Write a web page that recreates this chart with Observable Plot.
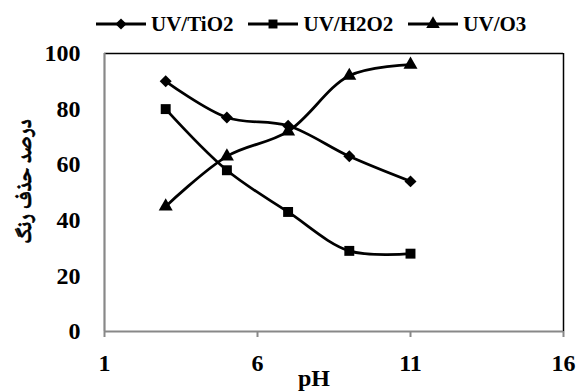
<!DOCTYPE html>
<html>
<head>
<meta charset="utf-8">
<script src="https://cdn.jsdelivr.net/npm/d3@7"></script>
<script src="https://cdn.jsdelivr.net/npm/@observablehq/plot@0.6"></script>
<style>
  html, body { margin: 0; padding: 0; background: #fff; }
  #chart { width: 578px; height: 391px; position: relative; }
  #legend { height: 40px; box-sizing: border-box; padding-top: 8px; padding-left: 96px; display: flex; align-items: center; gap: 15px; color: #000; }
  .item { display: flex; align-items: center; gap: 5px; }
</style>
</head>
<body>
<div id="chart">
  <div id="legend" style="font-family:'Liberation Serif';font-weight:bold;font-size:21px"></div>
</div>
<script>
const pH = [3, 5, 7, 9, 11];
const seriesNames = ["UV/TiO2", "UV/H2O2", "UV/O3"];
const tio2 = [90, 77, 74, 63, 54];
const h2o2 = [80, 58, 43, 29, 28];
const o3 = [45, 63, 72, 92, 96];
const xTicks = [1, 6, 11, 16];
const yTicks = [0, 20, 40, 60, 80, 100];
const yTitle = "درصد حذف رنگ";
const xTitle = "pH";

const symbols = {"UV/TiO2": "diamond2", "UV/H2O2": "square", "UV/O3": "triangle"};
const d3Symbols = {"UV/TiO2": d3.symbolDiamond2, "UV/H2O2": d3.symbolSquare, "UV/O3": d3.symbolTriangle};
const radii = {"UV/TiO2": 5.4, "UV/H2O2": 5.6, "UV/O3": 5.2};

const values = [tio2, h2o2, o3];
const data = [];
seriesNames.forEach((s, k) => pH.forEach((x, i) => data.push({series: s, pH: x, value: values[k][i]})));

const marks = [];
seriesNames.forEach(s => {
  const d = data.filter(r => r.series === s);
  marks.push(Plot.line(d, {x: "pH", y: "value", stroke: "black", strokeWidth: 2.75, curve: "catmull-rom"}));
  marks.push(Plot.dot(d, {x: "pH", y: "value", symbol: () => symbols[s], r: radii[s], fill: "black", stroke: "none"}));
});

const plot = Plot.plot({
  width: 578,
  height: 351,
  marginLeft: 104,
  marginRight: 15,
  marginTop: 13,
  marginBottom: 60,
  style: {fontWeight: "bold", fontSize: "24px", color: "#000", background: "#fff"},
  x: {domain: [1, 16], ticks: xTicks, tickSize: 6, tickPadding: 16, label: null, tickFormat: d => String(d)},
  y: {domain: [0, 100], ticks: yTicks, tickSize: 0, tickPadding: 24, label: null},
  symbol: {type: "identity"},
  marks: [
    Plot.ruleY([100], {stroke: "black", strokeWidth: 1.5}),
    Plot.ruleX([16], {stroke: "black", strokeWidth: 1.5}),
    Plot.ruleX([1], {stroke: "#888", strokeWidth: 2.2}),
    Plot.ruleY([0], {stroke: "#888", strokeWidth: 2.2}),
    ...marks,
    Plot.text([xTitle], {frameAnchor: "bottom", textAnchor: "middle", lineAnchor: "middle", dx: -20, dy: 47, text: d => d, fontSize: 24, fontWeight: "bold", fill: "black"}),
    Plot.text([yTitle], {frameAnchor: "left", textAnchor: "middle", lineAnchor: "middle", dx: -80, dy: -11, rotate: -90, text: d => d, fontSize: 21, fontWeight: "bold", fontFamily: "Noto Naskh Arabic", fill: "black", stroke: "black", strokeWidth: 0.6})
  ]
});
d3.select(plot).style("font-family", "'Liberation Serif', serif").style("overflow", "visible");
d3.select(plot).selectAll("[aria-label='x-axis tick'] path").attr("stroke", "#888").attr("stroke-width", 2);
document.getElementById("chart").appendChild(plot);

const legend = d3.select("#legend");
seriesNames.forEach(s => {
  const item = legend.append("div").attr("class", "item");
  const svg = item.append("svg").attr("width", 50).attr("height", 16);
  svg.append("line").attr("x1", 0).attr("x2", 50).attr("y1", 8).attr("y2", 8).attr("stroke", "black").attr("stroke-width", 3);
  svg.append("path").attr("d", d3.symbol(d3Symbols[s], 80)()).attr("transform", "translate(25,8)").attr("fill", "black");
  item.append("span").text(s);
});
</script>
</body>
</html>
